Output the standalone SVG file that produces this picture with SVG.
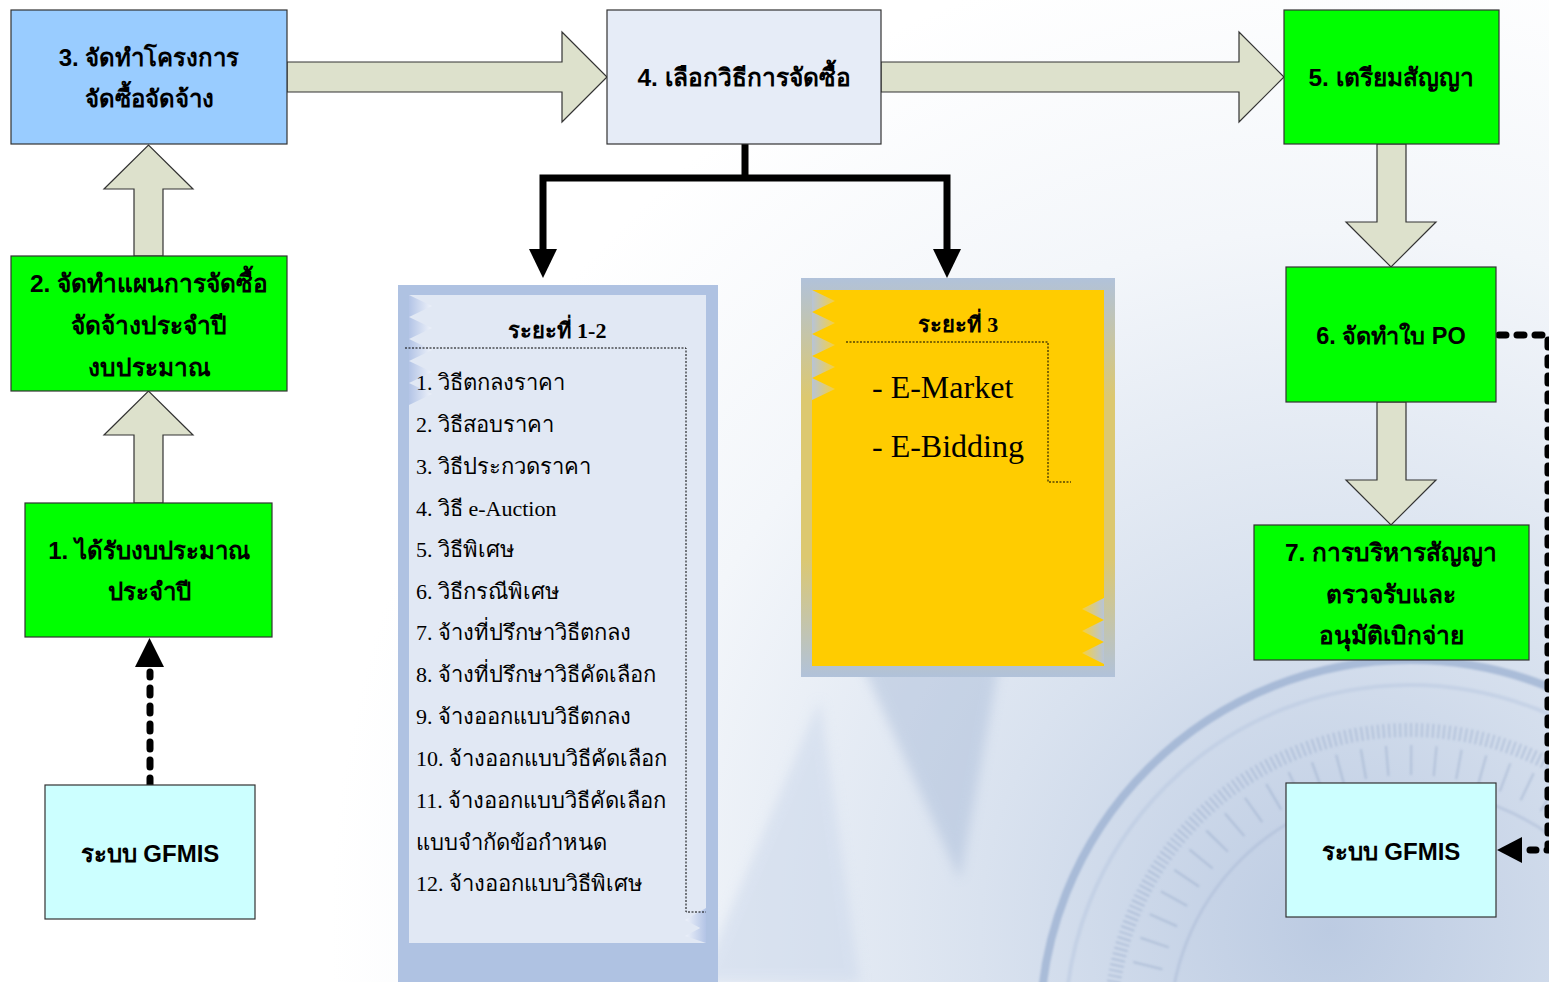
<svg xmlns="http://www.w3.org/2000/svg" width="1549" height="982" viewBox="0 0 1549 982">
<defs>
  <radialGradient id="bg" cx="1330" cy="930" r="1000" gradientUnits="userSpaceOnUse">
    <stop offset="0" stop-color="#bccbe2"/>
    <stop offset="0.35" stop-color="#d9e2ef"/>
    <stop offset="0.7" stop-color="#f3f6fa"/>
    <stop offset="1" stop-color="#ffffff"/>
  </radialGradient>
  <linearGradient id="tri" x1="0" y1="0" x2="1" y2="0">
    <stop offset="0" stop-color="#b3c4e6"/>
    <stop offset="1" stop-color="#eef2fa"/>
  </linearGradient>
  <linearGradient id="triL" x1="1" y1="0" x2="0" y2="0">
    <stop offset="0" stop-color="#b3c4e6"/>
    <stop offset="1" stop-color="#eef2fa"/>
  </linearGradient>
  <linearGradient id="triY" x1="0" y1="0" x2="1" y2="0">
    <stop offset="0" stop-color="#b7c4d8"/>
    <stop offset="1" stop-color="#f5d040"/>
  </linearGradient>
  <linearGradient id="triYL" x1="1" y1="0" x2="0" y2="0">
    <stop offset="0" stop-color="#b7c4d8"/>
    <stop offset="1" stop-color="#f5d040"/>
  </linearGradient>
  <linearGradient id="yframe" x1="0" y1="0" x2="0" y2="1">
    <stop offset="0" stop-color="#b1c2da"/>
    <stop offset="0.3" stop-color="#dcc870"/>
    <stop offset="0.7" stop-color="#dcc870"/>
    <stop offset="1" stop-color="#b1c2da"/>
  </linearGradient>
  <filter id="blur" x="-20%" y="-20%" width="140%" height="140%">
    <feGaussianBlur stdDeviation="6"/>
  </filter>
  <filter id="blur2" x="-20%" y="-20%" width="140%" height="140%">
    <feGaussianBlur stdDeviation="1.2"/>
  </filter>
  <style>
    .node { stroke: #333333; stroke-width: 1.2; }
    .blue { fill: #99ccff; }
    .green { fill: #00ff00; }
    .lav { fill: #e6ecf7; }
    .cyan { fill: #ccffff; }
    .fat { fill: #dde1cc; stroke: #333333; stroke-width: 1.2; }
    .t { font-family: "Liberation Sans", "Noto Sans", "DejaVu Sans", sans-serif; font-weight: bold; fill: #000; text-anchor: middle; }
    .s { font-family: "Liberation Serif", "DejaVu Serif", serif; fill: #000; }
    .sb { font-family: "Liberation Serif", "DejaVu Serif", serif; font-weight: bold; fill: #000; text-anchor: middle; }
    .thick { fill: none; stroke: #000; stroke-width: 7; stroke-linejoin: miter; }
    .dot { fill: none; stroke: #000; stroke-width: 1; stroke-dasharray: 2 1.5; }
    .dash { fill: none; stroke: #000; stroke-width: 7; stroke-linecap: round; stroke-dasharray: 7 11; }
  </style>
</defs>

<!-- background -->
<g id="background">
  <rect x="0" y="0" width="1549" height="982" fill="url(#bg)"/>
  <path d="M860,660 L1000,660 L960,880 Z" fill="#9fb3d3" opacity="0.4" filter="url(#blur)"/>
  <path d="M700,982 L820,700 L860,982 Z" fill="#c9d6ea" opacity="0.5" filter="url(#blur)"/>
  <g fill="none" filter="url(#blur2)">
    <circle cx="1410" cy="1030" r="370" stroke="#7f9ac4" stroke-width="8" opacity="0.5"/>
    <circle cx="1410" cy="1030" r="345" stroke="#b7c7e0" stroke-width="4" opacity="0.5"/>
    <circle cx="1410" cy="1030" r="300" stroke="#8ea2c4" stroke-width="14" stroke-dasharray="1.5 4" opacity="0.55"/>
    <circle cx="1410" cy="1030" r="270" stroke="#7f95bb" stroke-width="30" stroke-dasharray="2 22" opacity="0.35"/>
    <circle cx="1410" cy="1030" r="240" stroke="#a9bad6" stroke-width="3" opacity="0.5"/>
  </g>
</g>

<!-- connectors -->
<g id="connectors">
  <path class="fat" d="M134,503 L134,435 L104,435 L148.5,391 L193,435 L163,435 L163,503 Z"/>
  <path class="fat" d="M134,256 L134,189 L104,189 L148.5,145 L193,189 L163,189 L163,256 Z"/>
  <path class="fat" d="M287,62 L562,62 L562,32 L607,77 L562,122 L562,92 L287,92 Z"/>
  <path class="fat" d="M881,62 L1239,62 L1239,32 L1284,77 L1239,122 L1239,92 L881,92 Z"/>
  <path class="fat" d="M1377,144 L1377,222 L1346,222 L1391,267 L1436,222 L1406,222 L1406,144 Z"/>
  <path class="fat" d="M1377,402 L1377,480 L1346,480 L1391,525 L1436,480 L1406,480 L1406,402 Z"/>
  <path class="thick" d="M745,143 L745,178"/>
  <path class="thick" d="M543,250 L543,178 L947,178 L947,250"/>
  <path d="M529,249 L557,249 L543,278 Z" fill="#000"/>
  <path d="M933,249 L961,249 L947,278 Z" fill="#000"/>
  <path class="dash" d="M150,785 L150,672"/>
  <path d="M135,667 L164,667 L149.5,638 Z" fill="#000"/>
  <path class="dash" d="M1499,335 L1548,335 L1548,850 L1530,850"/>
  <path d="M1522,837 L1522,863 L1497,850 Z" fill="#000"/>
</g>

<g id="node3">
  <rect class="node blue" x="11" y="10" width="276" height="134"/>
  <text class="t" x="149" y="66" font-size="24">3. จัดทำโครงการ</text>
  <text class="t" x="149" y="107" font-size="24">จัดซื้อจัดจ้าง</text>
</g>
<g id="node2">
  <rect class="node green" x="11" y="256" width="276" height="135"/>
  <text class="t" x="149" y="292" font-size="24.5">2. จัดทำแผนการจัดซื้อ</text>
  <text class="t" x="149" y="334" font-size="24.5">จัดจ้างประจำปี</text>
  <text class="t" x="149" y="376" font-size="24.5">งบประมาณ</text>
</g>
<g id="node1">
  <rect class="node green" x="25" y="503" width="247" height="134"/>
  <text class="t" x="149" y="559" font-size="24">1. ได้รับงบประมาณ</text>
  <text class="t" x="149" y="600" font-size="24">ประจำปี</text>
</g>
<g id="gfmis-left">
  <rect class="node cyan" x="45" y="785" width="210" height="134"/>
  <text class="t" x="150" y="862" font-size="24">ระบบ GFMIS</text>
</g>
<g id="node4">
  <rect class="node lav" x="607" y="10" width="274" height="134"/>
  <text class="t" x="744" y="86" font-size="24.5">4. เลือกวิธีการจัดซื้อ</text>
</g>
<g id="node5">
  <rect class="node green" x="1284" y="10" width="215" height="134"/>
  <text class="t" x="1391" y="86" font-size="24.5">5. เตรียมสัญญา</text>
</g>
<g id="node6">
  <rect class="node green" x="1286" y="267" width="210" height="135"/>
  <text class="t" x="1391" y="344" font-size="23.5">6. จัดทำใบ PO</text>
</g>
<g id="node7">
  <rect class="node green" x="1254" y="525" width="275" height="135"/>
  <text class="t" x="1391" y="561" font-size="24.5">7. การบริหารสัญญา</text>
  <text class="t" x="1391" y="603" font-size="24.5">ตรวจรับและ</text>
  <text class="t" x="1391" y="644" font-size="24.5">อนุมัติเบิกจ่าย</text>
</g>
<g id="gfmis-right">
  <rect class="node cyan" x="1286" y="783" width="210" height="134"/>
  <text class="t" x="1391" y="860" font-size="24">ระบบ GFMIS</text>
</g>

<g id="phase12">
  <rect x="398" y="285" width="320" height="697" fill="#afc2e2"/>
  <rect x="409" y="295" width="297" height="648" fill="#e1e8f4"/>
  <g fill="url(#tri)">
    <path d="M409,295 L432,306 L409,317 Z"/>
    <path d="M409,317 L432,328 L409,339 Z"/>
    <path d="M409,339 L432,350 L409,361 Z"/>
    <path d="M409,361 L432,372 L409,383 Z"/>
    <path d="M409,383 L432,394 L409,405 Z"/>
  </g>
  <g fill="url(#triL)">
    <path d="M706,908 L685,920 L706,931 Z"/>
    <path d="M706,925 L685,936 L706,943 Z"/>
  </g>
  <path class="dot" d="M405,348 L686,348 L686,912 L706,912"/>
  <text class="sb" x="557" y="338" font-size="22">ระยะที่ 1-2</text>
  <g class="s" font-size="22">
    <text x="416" y="390">1. วิธีตกลงราคา</text>
    <text x="416" y="432">2. วิธีสอบราคา</text>
    <text x="416" y="474">3. วิธีประกวดราคา</text>
    <text x="416" y="516">4. วิธี e-Auction</text>
    <text x="416" y="557">5. วิธีพิเศษ</text>
    <text x="416" y="599">6. วิธีกรณีพิเศษ</text>
    <text x="416" y="640">7. จ้างที่ปรึกษาวิธีตกลง</text>
    <text x="416" y="682">8. จ้างที่ปรึกษาวิธีคัดเลือก</text>
    <text x="416" y="724">9. จ้างออกแบบวิธีตกลง</text>
    <text x="416" y="766">10. จ้างออกแบบวิธีคัดเลือก</text>
    <text x="416" y="808">11. จ้างออกแบบวิธีคัดเลือก</text>
    <text x="416" y="850">แบบจำกัดข้อกำหนด</text>
    <text x="416" y="891">12. จ้างออกแบบวิธีพิเศษ</text>
  </g>
</g>

<g id="phase3">
  <rect x="801" y="278" width="314" height="399" fill="url(#yframe)"/>
  <rect x="812" y="290" width="292" height="376" fill="#ffcc00"/>
  <g fill="url(#triY)">
    <path d="M812,290 L835,301 L812,312 Z"/>
    <path d="M812,312 L835,323 L812,334 Z"/>
    <path d="M812,334 L835,345 L812,356 Z"/>
    <path d="M812,356 L835,367 L812,378 Z"/>
    <path d="M812,378 L835,389 L812,400 Z"/>
  </g>
  <g fill="url(#triYL)">
    <path d="M1104,598 L1082,609 L1104,620 Z"/>
    <path d="M1104,620 L1082,631 L1104,642 Z"/>
    <path d="M1104,642 L1082,653 L1104,664 Z"/>
  </g>
  <path class="dot" d="M846,342 L1048,342 L1048,482 L1071,482"/>
  <text class="sb" x="958" y="332" font-size="22">ระยะที่ 3</text>
  <text class="s" x="872" y="398" font-size="32">- E-Market</text>
  <text class="s" x="872" y="457" font-size="32">- E-Bidding</text>
</g>
</svg>
